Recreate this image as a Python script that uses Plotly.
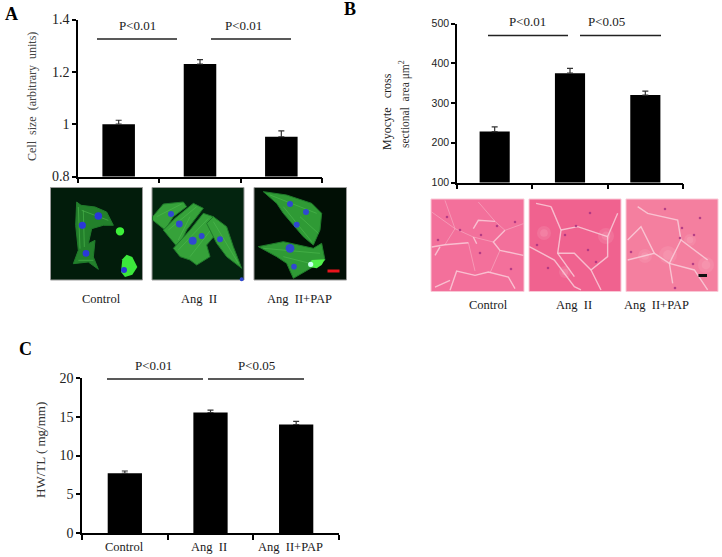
import plotly.graph_objects as go

W, H = 722, 557
SERIF = 'Liberation Serif, Times New Roman, serif'
SANS = 'Liberation Sans, Arial, sans-serif'

categories = ['Control', 'Ang  II', 'Ang  II+PAP']

cell_size = [1.0, 1.23, 0.952]
cell_size_err = [0.015, 0.017, 0.022]
cell_ticks = [0.8, 1.0, 1.2, 1.4]
cell_tick_labels = ['0.8', '1', '1.2', '1.4']

myocyte_area = [228, 375, 320]
myocyte_err = [12, 12, 10]
myocyte_ticks = [100, 200, 300, 400, 500]

hw_tl = [7.7, 15.55, 14.0]
hw_tl_err = [0.3, 0.3, 0.4]
hw_ticks = [0, 5, 10, 15, 20]


def px(x):
    return x / W


def py(y):
    return 1 - y / H


def poly(points, ox, oy, fill, opacity=1.0, line=None, lw=0, closed=True):
    d = 'M ' + ' L '.join(f'{px(ox + a / 3):.4f},{py(oy + b / 3):.4f}' for a, b in points)
    if closed:
        d += ' Z'
    return dict(type='path', xref='paper', yref='paper', path=d, fillcolor=fill, opacity=opacity,
                line=dict(color=line or 'rgba(0,0,0,0)', width=lw), layer='above')


def rect(x0, y0, x1, y1, fill, line=None, lw=0):
    return dict(type='rect', xref='paper', yref='paper', x0=px(x0), x1=px(x1), y0=py(y1), y1=py(y0),
                fillcolor=fill, line=dict(color=line or 'rgba(0,0,0,0)', width=lw), layer='above')


def dot(x, y, r, fill, opacity=1.0):
    return dict(type='circle', xref='paper', yref='paper', x0=px(x - r), x1=px(x + r), y0=py(y + r), y1=py(y - r),
                fillcolor=fill, opacity=opacity, line=dict(width=0), layer='above')


def hline(x0, x1, y, width=1.5, color='#222222'):
    return dict(type='line', xref='paper', yref='paper', x0=px(x0), x1=px(x1), y0=py(y), y1=py(y),
                line=dict(color=color, width=width), layer='above')


def label(x, y, text, size=12, family=SERIF, color='#1a1a1a', angle=0, **kw):
    kw.setdefault('xanchor', 'center')
    kw.setdefault('yanchor', 'middle')
    return dict(xref='paper', yref='paper', x=px(x), y=py(y), text=text, showarrow=False, textangle=angle,
                font=dict(family=family, size=size, color=color), **kw)


def cell(points, ox, oy, fibres, fill='#2c8f33', edge='#1f7a2a', streak='#4fbb50'):
    # flat cell body plus a few faint fibres
    out = [poly(points, ox, oy, fill, line=edge, lw=1)]
    for pts in fibres:
        out.append(poly(pts, ox, oy, 'rgba(0,0,0,0)', opacity=0.6, line=streak, lw=1, closed=False))
    return out


fig = go.Figure()


def add_panel(n, values, errs, x0, x1, y0, y1, yrange, ticks, ticktext, tickfont):
    ax = '' if n == 1 else str(n)
    fig.add_trace(go.Bar(x=categories, y=values, xaxis='x' + ax, yaxis='y' + ax, width=0.4,
                         marker=dict(color='black', line=dict(width=0)), showlegend=False,
                         error_y=dict(type='data', symmetric=False, array=errs, arrayminus=[0, 0, 0],
                                      color='#333333', thickness=1.2, width=3)))
    fig.update_layout({
        'xaxis' + ax: dict(domain=[px(x0), px(x1)], anchor='y' + ax, type='category', tickson='boundaries',
                           ticks='outside', ticklen=5, tickwidth=1.5, tickcolor='black', showticklabels=False,
                           showline=True, linecolor='black', linewidth=1.5, showgrid=False, zeroline=False,
                           automargin=False),
        'yaxis' + ax: dict(domain=[py(y1), py(y0)], anchor='x' + ax, range=yrange, tickvals=ticks, ticktext=ticktext,
                           ticks='outside', ticklen=4, tickwidth=1.5, tickcolor='black', tickfont=tickfont,
                           showline=True, linecolor='black', linewidth=1.5, showgrid=False, zeroline=False,
                           automargin=False),
    })


serif_ticks = dict(family=SERIF, size=14, color='#222222')
add_panel(1, cell_size, cell_size_err, 78, 322, 19.5, 176.5, [0.8, 1.4], cell_ticks, cell_tick_labels, serif_ticks)
add_panel(2, myocyte_area, myocyte_err, 457, 683, 23.5, 182.5, [100, 500], myocyte_ticks, [str(t) for t in myocyte_ticks],
          dict(family=SANS, size=10.5, color='#222222'))
add_panel(3, hw_tl, hw_tl_err, 82, 339, 378, 533, [0, 20], hw_ticks, [str(t) for t in hw_ticks], serif_ticks)

shapes = []

# significance lines
for x0, x1, y in [(97, 177, 39), (211, 291, 39), (488, 568, 35.5), (580, 661, 35.5), (107, 203, 379), (208, 304, 379)]:
    shapes.append(hline(x0, x1, y))

# fluorescence micrographs, panel A
for x0, x1, bg in [(50.5, 142.5, '#021c0b'), (152, 244, '#03240f'), (254, 346.5, '#010f05')]:
    shapes.append(rect(x0, 187.5, x1, 280, bg, line='#9a9a9a', lw=1))

# Control
shapes += cell([(95, 60), (108, 70), (150, 75), (185, 90), (205, 130), (175, 130), (140, 140), (130, 185), (150, 175),
                (145, 225), (160, 262), (130, 240), (85, 245), (100, 205), (92, 130)], 45, 182,
               [[(100, 75), (105, 200)], [(115, 85), (118, 195)], [(110, 85), (190, 115)], [(100, 235), (145, 235)]],
               fill='#23802b')
shapes.append(dot(45 + 225 / 3, 182 + 148 / 3, 4.2, '#3df03a'))
shapes.append(poly([(232, 232), (245, 218), (262, 225), (277, 255), (262, 278), (240, 285), (228, 270)], 45, 182, '#3ce83c'))
for a, b, r in [(160, 102, 3.8), (112, 130, 3.6), (123, 214, 3.4), (237, 264, 3)]:
    shapes.append(dot(45 + a / 3, 182 + b / 3, r, '#2a38d8'))

# Ang II
for pts, fibres in [
    ([(458, 650), (490, 612), (550, 606), (560, 620), (520, 650), (495, 690), (458, 660)], [[(470, 650), (545, 612)]]),
    ([(525, 655), (580, 610), (610, 625), (560, 690), (535, 745), (490, 690)], [[(505, 690), (590, 620)], [(535, 720), (570, 650)]]),
    ([(520, 745), (570, 690), (610, 640), (640, 650), (650, 700), (620, 735), (630, 770), (590, 795), (570, 780), (540, 770)],
     [[(535, 750), (625, 655)], [(570, 770), (640, 680)]]),
    ([(620, 670), (640, 650), (680, 680), (700, 740), (725, 805), (680, 770), (650, 730)], [[(640, 665), (715, 790)]]),
]:
    shapes += cell(pts, 0, 0, fibres, fill='#36a23a')
for a, b, r in [(513, 642, 3), (538, 672, 3.4), (578, 722, 4), (605, 708, 3), (660, 718, 3), (725, 838, 2)]:
    shapes.append(dot(a / 3, b / 3, r, '#3048d0'))

# Ang II+PAP
for pts, fibres in [
    ([(790, 575), (860, 585), (935, 610), (965, 640), (960, 690), (940, 735), (910, 710), (850, 640), (830, 610)],
     [[(810, 585), (950, 640)], [(850, 620), (935, 725)], [(900, 650), (955, 700)]]),
    ([(775, 740), (850, 725), (940, 745), (965, 730), (975, 780), (940, 800), (880, 835), (860, 790), (830, 770)],
     [[(790, 745), (960, 760)], [(850, 770), (930, 790)]]),
]:
    shapes += cell(pts, 0, 0, fibres, fill='#2f9a35')
shapes.append(poly([(925, 800), (935, 780), (975, 778), (965, 795), (950, 805)], 0, 0, '#50f04a'))
shapes.append(dot(932 / 3, 793 / 3, 2.6, '#c8fff0'))
for a, b, r in [(870, 612, 3), (918, 636, 3), (890, 674, 3), (870, 745, 4.4), (882, 800, 2.8)]:
    shapes.append(dot(a / 3, b / 3, r, '#3048d0'))
shapes.append(rect(327.5, 269.5, 339.5, 272.5, '#e8141c'))

# H&E sections, panel B
PALE = '#fbd3de'
shapes.append(rect(431, 199, 524, 291.5, '#f3709b', line='#f9c8d6', lw=1))
shapes.append(rect(529, 199, 621, 291.5, '#f0628f', line='#f9c8d6', lw=1))
shapes.append(rect(626, 199, 718, 291.5, '#f47f9f', line='#f9c8d6', lw=1))

for x, y, r in [(544, 233, 7), (606, 236, 8), (565, 272, 6), (668, 255, 9), (706, 265, 8), (645, 256, 7), (690, 240, 6)]:
    shapes.append(dot(x, y, r, '#fbb6c8', opacity=0.18))
    shapes.append(dot(x, y, r * 0.55, '#fbb6c8', opacity=0.22))

white_lines = {
    (425, 192): [[(20, 165), (60, 158), (130, 152)], [(30, 190), (45, 165)], [(145, 110), (160, 85), (210, 88)],
                 [(145, 135), (155, 155)], [(240, 115), (205, 150), (225, 175), (295, 190)],
                 [(75, 295), (95, 237), (150, 250), (190, 240), (250, 255), (270, 290)], [(75, 265), (30, 285)]],
    (361, 0): [[(505, 740), (580, 780), (640, 860), (660, 870)], [(570, 620), (600, 690), (590, 760), (640, 830)],
               [(600, 690), (650, 680), (740, 710), (770, 640)], [(740, 710), (740, 770), (690, 810), (720, 870)],
               [(590, 760), (640, 760), (690, 810)], [(525, 610), (570, 620)],
               [(830, 620), (860, 640), (950, 660), (960, 720), (925, 790), (935, 850)],
               [(800, 780), (880, 760), (925, 790), (1000, 810), (1040, 870)], [(960, 720), (1040, 780)],
               [(880, 760), (840, 680), (800, 720)]],
}
for (ox, oy), lines in white_lines.items():
    for pts in lines:
        shapes.append(poly(pts, ox, oy, 'rgba(0,0,0,0)', opacity=0.8, line=PALE, lw=1.4, closed=False))

# fainter fibre borders in the first section
for pts in [[(20, 60), (90, 110), (145, 135)], [(60, 25), (90, 110), (60, 158)], [(145, 135), (205, 150)],
            [(130, 152), (150, 237)], [(240, 115), (295, 95)], [(225, 175), (195, 243)], [(160, 30), (210, 88), (240, 115)]]:
    shapes.append(poly(pts, 425, 192, 'rgba(0,0,0,0)', opacity=0.4, line=PALE, lw=1, closed=False))

nuclei = [(447, 217), (460, 230), (481, 235), (497, 226), (515, 222), (480, 253), (511, 269), (438, 240),
          (590, 213), (576, 226), (588, 250), (596, 262), (548, 268), (565, 235), (537, 245),
          (665, 209), (682, 228), (680, 238), (631, 252), (693, 264), (675, 288), (694, 235), (700, 218)]
for x, y in nuclei:
    shapes.append(dot(x, y, 1.3, '#a5307f', opacity=0.8))
shapes.append(rect(698.5, 274, 707, 277, '#111111'))

annotations = [
    label(11, 14, '<b>A</b>', size=18, color='black'),
    label(350, 9, '<b>B</b>', size=18, color='black'),
    label(25, 349, '<b>C</b>', size=18, color='black'),
    label(137, 25.5, 'P&lt;0.01', size=13),
    label(243, 25.5, 'P&lt;0.01', size=13),
    label(527, 21, 'P&lt;0.01', size=13),
    label(606, 21, 'P&lt;0.05', size=13),
    label(153, 365, 'P&lt;0.01', size=13),
    label(256, 365, 'P&lt;0.05', size=13),
    label(32, 97, 'Cell  size  (arbitrary  units)', size=12, color='#444444', angle=-90),
    label(387, 112, 'Myocyte   cross', size=12, angle=-90),
    label(405, 104, 'sectional  area μm<sup>2</sup>', size=11.5, color='#333333', angle=-90),
    label(40, 450, 'HW/TL ( mg/mm)', size=13, color='#333333', angle=-90),
]
for cat, x, y in zip(categories, [101, 199, 299], [299, 299, 299]):
    annotations.append(label(x, y, cat, size=12.5))
for cat, x, y in zip(categories, [488, 574, 656], [305, 305, 305]):
    annotations.append(label(x, y, cat, size=12.5))
for cat, x, y in zip(categories, [124, 209, 290], [547, 547, 547]):
    annotations.append(label(x, y, cat, size=12.5))

fig.update_layout(width=W, height=H, autosize=False, margin=dict(l=0, r=0, t=0, b=0),
                  plot_bgcolor='white', paper_bgcolor='white', shapes=shapes, annotations=annotations,
                  showlegend=False, bargap=0.6)

fig.write_html('out.html', post_script="document.body.style.margin='0';", config={'displayModeBar': False})
